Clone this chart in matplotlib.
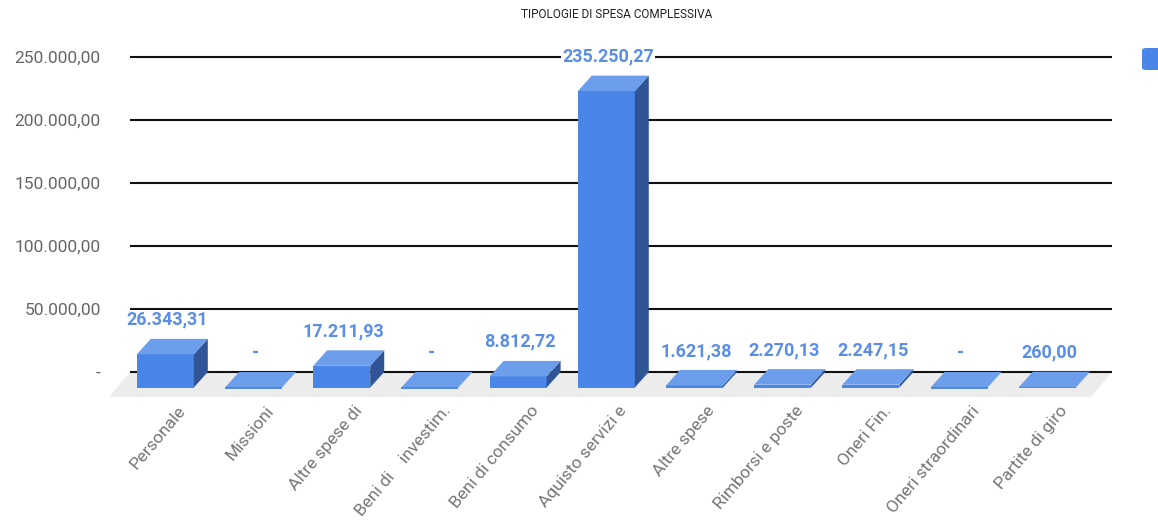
import matplotlib
matplotlib.use("Agg")
import matplotlib.pyplot as plt
from matplotlib.patches import Polygon, FancyBboxPatch

# ---------------- data ----------------
title = "TIPOLOGIE DI SPESA COMPLESSIVA"
categories = ["Personale", "Missioni", "Altre spese di", "Beni di    investim.",
              "Beni di consumo", "Aquisto servizi e", "Altre spese",
              "Rimborsi e poste", "Oneri Fin.", "Oneri straordinari", "Partite di giro"]
values = [26343.31, 0.0, 17211.93, 0.0, 8812.72, 235250.27, 1621.38,
          2270.13, 2247.15, 0.0, 260.00]
y_ticks = [0, 50000, 100000, 150000, 200000, 250000]

FONT = ["Roboto", "DejaVu Sans"]

def it_fmt(v):
    if v == 0:
        return "-"
    s = f"{v:,.2f}"
    return s.replace(",", "X").replace(".", ",").replace("X", ".")

# ---------------- layout ----------------
W_PX, H_PX = 1158, 526
fig = plt.figure(figsize=(W_PX / 100, H_PX / 100), dpi=100)

PX_PER_UNIT = 315 / 250000          # vertical scale
PX_PER_CAT = 88.2                   # horizontal spacing
Y0_PX = 372                          # zero gridline, px from top
YLIM = (-40000, 265000)
XLIM = (-0.559, 10.575)
ax_bottom = (H_PX - (Y0_PX - YLIM[0] * PX_PER_UNIT)) / H_PX
ax_top = (H_PX - (Y0_PX - YLIM[1] * PX_PER_UNIT)) / H_PX
ax = fig.add_axes([130 / W_PX, ax_bottom, 982 / W_PX, ax_top - ax_bottom])
ax.set_xlim(*XLIM)
ax.set_ylim(*YLIM)

DX = 14 / PX_PER_CAT
DY = 15.5 / PX_PER_UNIT
W = 57 / PX_PER_CAT

FRONT = "#4a86e8"
TOP = "#6d9eeb"
SIDE = "#2f5597"
EDGE = "#3f78d8"
FLOOR = "#ececec"

# gridlines
ax.set_yticks(y_ticks)
ax.set_yticklabels([it_fmt(t) if t else "-" for t in y_ticks],
                   fontsize=12.5, color="#666666", family=FONT)
ax.tick_params(axis="y", length=0, pad=21)
ax.set_xticks([])
for t in y_ticks:
    ax.axhline(t, color="#111111", lw=1.5, zorder=1)
for s in ax.spines.values():
    s.set_visible(False)

# floor
FDX = 21 / PX_PER_CAT
FDY = 25 / PX_PER_UNIT
floor = Polygon([(XLIM[0], 0), (XLIM[1], 0), (XLIM[1] - FDX, -FDY), (XLIM[0] - FDX, -FDY)],
                closed=True, facecolor=FLOOR, edgecolor="none", zorder=0.5, clip_on=False)
ax.add_patch(floor)

# bars
for i, v in enumerate(values):
    xf = i - DX
    if v > 0:
        ax.bar(xf, v, width=W, bottom=-DY, color=FRONT, zorder=3, clip_on=False)
        side = Polygon([(xf + W / 2, -DY), (i + W / 2, 0), (i + W / 2, v), (xf + W / 2, v - DY)],
                       closed=True, facecolor=SIDE, edgecolor="none", zorder=3, clip_on=False)
        ax.add_patch(side)
    else:
        ax.plot([xf - W / 2, xf + W / 2], [-DY, -DY], color=EDGE, lw=1.2, zorder=3.6,
                solid_capstyle="butt")
    top = Polygon([(xf - W / 2, v - DY), (xf + W / 2, v - DY), (i + W / 2, v), (i - W / 2, v)],
                  closed=True, facecolor=TOP, edgecolor="none", zorder=3.5, clip_on=False)
    ax.add_patch(top)
    ax.text(xf + 0.02, v + 10 / PX_PER_UNIT, it_fmt(v), ha="center", va="bottom",
            fontsize=13, fontweight="bold", color="#5a8ee6", family=FONT, zorder=5,
            bbox=dict(facecolor="white", edgecolor="none", pad=0.5))
    ax.text(xf + 12 / PX_PER_CAT, -FDY - 6 / PX_PER_UNIT, categories[i], rotation=50,
            rotation_mode="anchor", ha="right", va="top", fontsize=12.5,
            color="#767676", family=FONT, clip_on=False)

fig.text(617 / W_PX, 1 - 15 / H_PX, title, ha="center", va="center",
         fontsize=8.5, color="#222222", family=FONT)

leg = FancyBboxPatch((1142 / W_PX, 1 - 70 / H_PX), 30 / W_PX, 22 / H_PX,
                     boxstyle="round,pad=0,rounding_size=0.004", transform=fig.transFigure,
                     facecolor=FRONT, edgecolor="none")
fig.patches.append(leg)

fig.savefig("out.png", dpi=100, facecolor="white")
